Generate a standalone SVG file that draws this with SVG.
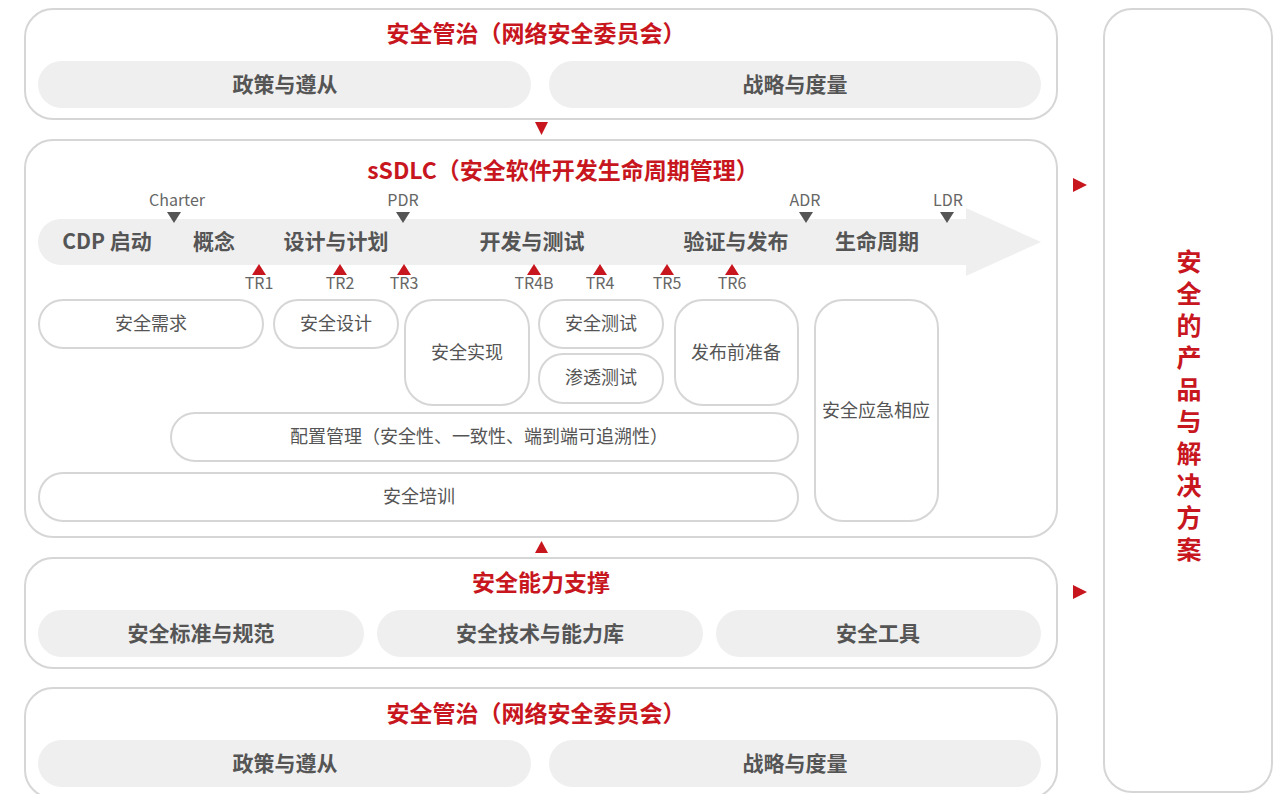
<svg xmlns="http://www.w3.org/2000/svg" width="1287" height="794" viewBox="0 0 1287 794">
<defs>
<style>
text{font-family:"Noto Sans CJK SC","Noto Sans",sans-serif;text-anchor:middle;dominant-baseline:central}
.panel{fill:#fff;stroke:#d6d6d6;stroke-width:2}
.pill{fill:#efefef}
.box{fill:#fff;stroke:#d6d6d6;stroke-width:2}
.title{fill:#c8161e;font-size:23px;font-weight:bold}
.pt{fill:#555;font-size:21px;font-weight:bold}
.bt{fill:#555;font-size:18px}
.ms{fill:#666;font-size:16px}
.red{fill:#c8161e}
.dk{fill:#555}
.vt{fill:#c8161e;font-size:25px;font-weight:bold;writing-mode:vertical-rl;letter-spacing:7px}
</style>
</defs>
<rect width="1287" height="794" fill="#fff"/>

<g id="governance-top">
<rect class="panel" x="25" y="9" width="1032" height="110" rx="28"/>
<text class="title" x="536" y="32">安全管治（网络安全委员会）</text>
<rect class="pill" x="38" y="61" width="493" height="47" rx="23.5"/>
<text class="pt" x="285" y="83">政策与遵从</text>
<rect class="pill" x="549" y="61" width="492" height="47" rx="23.5"/>
<text class="pt" x="795" y="83">战略与度量</text>
</g>

<g id="sdlc">
<rect class="panel" x="25" y="140" width="1032" height="397" rx="28"/>
<text class="title" x="563" y="169">sSDLC（安全软件开发生命周期管理）</text>
<path fill="#efefef" d="M61,219 H966 V208 L1041,242 L966,276 V265 H61 A23,23 0 0 1 61,219 Z"/>
<g class="pt">
<text x="107" y="240">CDP 启动</text>
<text x="214" y="240">概念</text>
<text x="336" y="240">设计与计划</text>
<text x="532" y="240">开发与测试</text>
<text x="736" y="240">验证与发布</text>
<text x="877" y="240">生命周期</text>
</g>
<g id="milestones">
<text class="ms" x="177" y="199">Charter</text>
<path class="dk" d="M167,212 H181 L174,223 Z"/>
<text class="ms" x="403" y="199">PDR</text>
<path class="dk" d="M396,212 H410 L403,223 Z"/>
<text class="ms" x="805" y="199">ADR</text>
<path class="dk" d="M799,212 H813 L806,223 Z"/>
<text class="ms" x="948" y="199">LDR</text>
<path class="dk" d="M940,212 H954 L947,223 Z"/>
</g>
<g id="tr">
<path class="red" d="M252,275 H266 L259,264 Z"/><text class="ms" x="259" y="282">TR1</text>
<path class="red" d="M333,275 H347 L340,264 Z"/><text class="ms" x="340" y="282">TR2</text>
<path class="red" d="M397,275 H411 L404,264 Z"/><text class="ms" x="404" y="282">TR3</text>
<path class="red" d="M527,275 H541 L534,264 Z"/><text class="ms" x="534" y="282">TR4B</text>
<path class="red" d="M593,275 H607 L600,264 Z"/><text class="ms" x="600" y="282">TR4</text>
<path class="red" d="M660,275 H674 L667,264 Z"/><text class="ms" x="667" y="282">TR5</text>
<path class="red" d="M725,275 H739 L732,264 Z"/><text class="ms" x="732" y="282">TR6</text>
</g>
</g>

<g id="n-req"><rect class="box" x="39" y="300" width="224" height="48" rx="24"/><text class="bt" x="151" y="322">安全需求</text></g>
<g id="n-design"><rect class="box" x="274" y="300" width="124" height="48" rx="24"/><text class="bt" x="336" y="322">安全设计</text></g>
<g id="n-impl"><rect class="box" x="405" y="300" width="124" height="105" rx="28"/><text class="bt" x="467" y="351">安全实现</text></g>
<g id="n-test"><rect class="box" x="539" y="300" width="124" height="48" rx="24"/><text class="bt" x="601" y="322">安全测试</text></g>
<g id="n-pen"><rect class="box" x="539" y="354" width="124" height="49" rx="24"/><text class="bt" x="601" y="376">渗透测试</text></g>
<g id="n-release"><rect class="box" x="675" y="300" width="123" height="105" rx="28"/><text class="bt" x="736" y="351">发布前准备</text></g>
<g id="n-resp"><rect class="box" x="815" y="300" width="123" height="221" rx="28"/><text class="bt" x="876" y="409">安全应急相应</text></g>
<g id="n-config"><rect class="box" x="171" y="413" width="627" height="48" rx="24"/><text class="bt" x="479" y="435">配置管理（安全性、一致性、端到端可追溯性）</text></g>
<g id="n-train"><rect class="box" x="39" y="473" width="759" height="48" rx="24"/><text class="bt" x="419" y="495">安全培训</text></g>

<g id="capability">
<rect class="panel" x="25" y="558" width="1032" height="110" rx="28"/>
<text class="title" x="541" y="581">安全能力支撑</text>
<rect class="pill" x="38" y="610" width="326" height="47" rx="23.5"/>
<text class="pt" x="201" y="632">安全标准与规范</text>
<rect class="pill" x="377" y="610" width="326" height="47" rx="23.5"/>
<text class="pt" x="540" y="632">安全技术与能力库</text>
<rect class="pill" x="716" y="610" width="325" height="47" rx="23.5"/>
<text class="pt" x="878" y="632">安全工具</text>
</g>

<g id="governance-bottom">
<rect class="panel" x="25" y="688" width="1032" height="110" rx="28"/>
<text class="title" x="536" y="712">安全管治（网络安全委员会）</text>
<rect class="pill" x="38" y="740" width="493" height="47" rx="23.5"/>
<text class="pt" x="285" y="762">政策与遵从</text>
<rect class="pill" x="549" y="740" width="492" height="47" rx="23.5"/>
<text class="pt" x="795" y="762">战略与度量</text>
</g>

<g id="products">
<rect class="panel" x="1104" y="9" width="168" height="783" rx="28"/>
<text class="vt" x="1189" y="409">安全的产品与解决方案</text>
</g>

<g id="connectors">
<path class="red" d="M535,122 H548 L541.5,135 Z"/>
<path class="red" d="M535,553 H548 L541.5,541 Z"/>
<path class="red" d="M1073,178 L1087,185 L1073,192 Z"/>
<path class="red" d="M1073,585 L1087,592 L1073,599 Z"/>
</g>
</svg>
